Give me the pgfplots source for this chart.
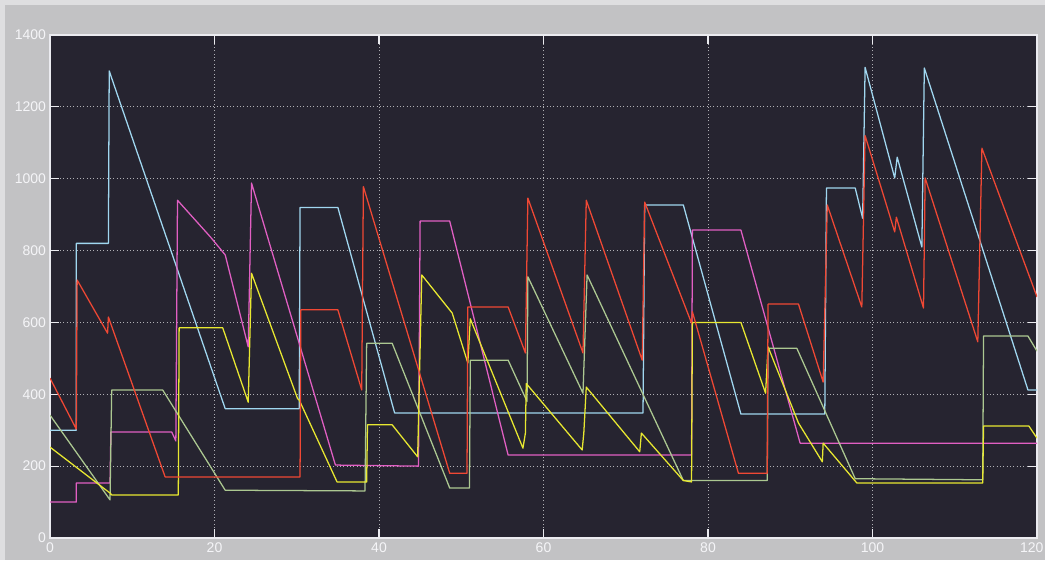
\documentclass[border=0pt]{standalone}
\usepackage{fontspec}
\setmainfont{Liberation Sans}
\usepackage{pgfplots}
\pgfplotsset{compat=1.18}
\definecolor{bgout}{RGB}{194,194,196}
\definecolor{bgedge}{RGB}{222,222,224}
\definecolor{plotbg}{RGB}{38,36,48}
\definecolor{axcol}{RGB}{235,235,240}
\definecolor{labcol}{RGB}{245,245,248}
\definecolor{gridcol}{RGB}{175,175,180}
\definecolor{cyanL}{RGB}{160,215,240}
\definecolor{redL}{RGB}{240,72,52}
\definecolor{magL}{RGB}{225,95,195}
\definecolor{yelL}{RGB}{232,232,48}
\definecolor{grnL}{RGB}{172,200,145}
\begin{document}
\begin{tikzpicture}[x=1pt,y=1pt]
\fill[bgedge] (0,0) rectangle (783.75,420);
\fill[bgout] (4,0) rectangle (783.75,416.25);
\useasboundingbox (0,0) rectangle (783.75,420);
\begin{axis}[
  at={(37.5pt,16.5pt)}, anchor=south west,
  scale only axis, width=740.25pt, height=377.25pt,
  xmin=0, xmax=120, ymin=0, ymax=1400,
  xtick={0,20,...,120}, ytick={0,200,...,1400},
  xticklabels={0,20,40,60,80,100,\hspace*{-8pt}120},
  axis background/.style={fill=plotbg},
  axis line style={draw=axcol, line width=1pt},
  tick style={draw=axcol, line width=0.8pt},
  major tick length=6.5pt, tick align=inside,
  grid=major,
  major grid style={draw=gridcol, dash pattern=on 0.7pt off 1.8pt, line width=0.6pt},
  ticklabel style={font=\fontsize{10.5}{12}\selectfont, text=labcol},
  yticklabel style={xshift=0.5pt},
  /pgf/number format/assume math mode=true,
  /pgf/number format/1000 sep={},
  scaled ticks=false,
  every axis plot/.append style={line width=0.95pt, mark=none, line join=round},
]
% cyan
\addplot[cyanL] coordinates {
(0,300) (3.2,300) (3.2,820) (7.1,820) (7.2,1300) (21.3,360) (30.3,360) (30.4,920) (35,920) (41.9,348) (72.1,348) (72.3,927) (77,927) (84,345) (94.2,345) (94.4,974) (97.9,974) (98.8,890) (99.1,1310) (102.7,1002) (103,1060) (106,810) (106.3,1308) (118.9,412) (120,412)};
% magenta
\addplot[magL] coordinates {
(0,100) (3.2,100) (3.2,153) (7.3,153) (7.4,295) (14.8,295) (15.3,270) (15.5,940) (19.5,838) (21.3,788) (24.1,532) (24.5,988) (34.7,203) (44.8,200) (45,882) (48.6,882) (55.7,231) (78,231) (78.1,857) (84,857) (91.2,264) (120,264)};
% green
\addplot[grnL] coordinates {
(0,342) (7.3,106) (7.5,412) (13.7,412) (21.3,133) (38.3,131) (38.5,542) (41.6,542) (48.6,139) (51,139) (51.1,495) (55.7,495) (58,380) (58.1,727) (64.8,403) (65.3,732) (77,160) (87.2,160) (87.3,528) (90.8,528) (97.9,165) (113.4,162) (113.5,562) (118.9,562) (120,520)};
% yellow
\addplot[yelL] coordinates {
(0,253) (7.3,125) (7.5,120) (15.6,120) (15.7,585) (21,585) (24.1,378) (24.5,737) (30.1,388) (30.3,384) (34.9,156) (38.5,156) (38.6,315) (41.6,315) (44.7,226) (45.2,732) (48.9,626) (50.8,487) (51.1,610) (57.5,250) (57.8,292) (57.9,430) (64.7,245) (64.9,292) (65.2,420) (71.7,240) (71.9,292) (77,160) (78,156) (78.1,600) (84,600) (87,403) (87.3,532) (91,320) (93.9,212) (94,264) (98.1,153) (113.4,153) (113.5,312) (119,312) (120,278)};
% red
\addplot[redL] coordinates {
(0,445) (3.2,303) (3.3,718) (7.0,570) (7.1,615) (14.0,170) (30.4,170) (30.5,635) (35,635) (37.9,412) (38.1,978) (48.6,180) (50.7,180) (50.8,643) (55.7,643) (57.8,515) (58.1,946) (64.8,515) (65.2,940) (72,495) (72.3,935) (78,598) (78.1,630) (83.7,180) (87.2,180) (87.3,651) (91,651) (94,434) (94.5,927) (98.7,643) (99.1,1120) (102.7,852) (102.9,893) (106.2,640) (106.4,1002) (112.8,546) (113.3,1085) (120,671)};
\end{axis}
\end{tikzpicture}
\end{document}
